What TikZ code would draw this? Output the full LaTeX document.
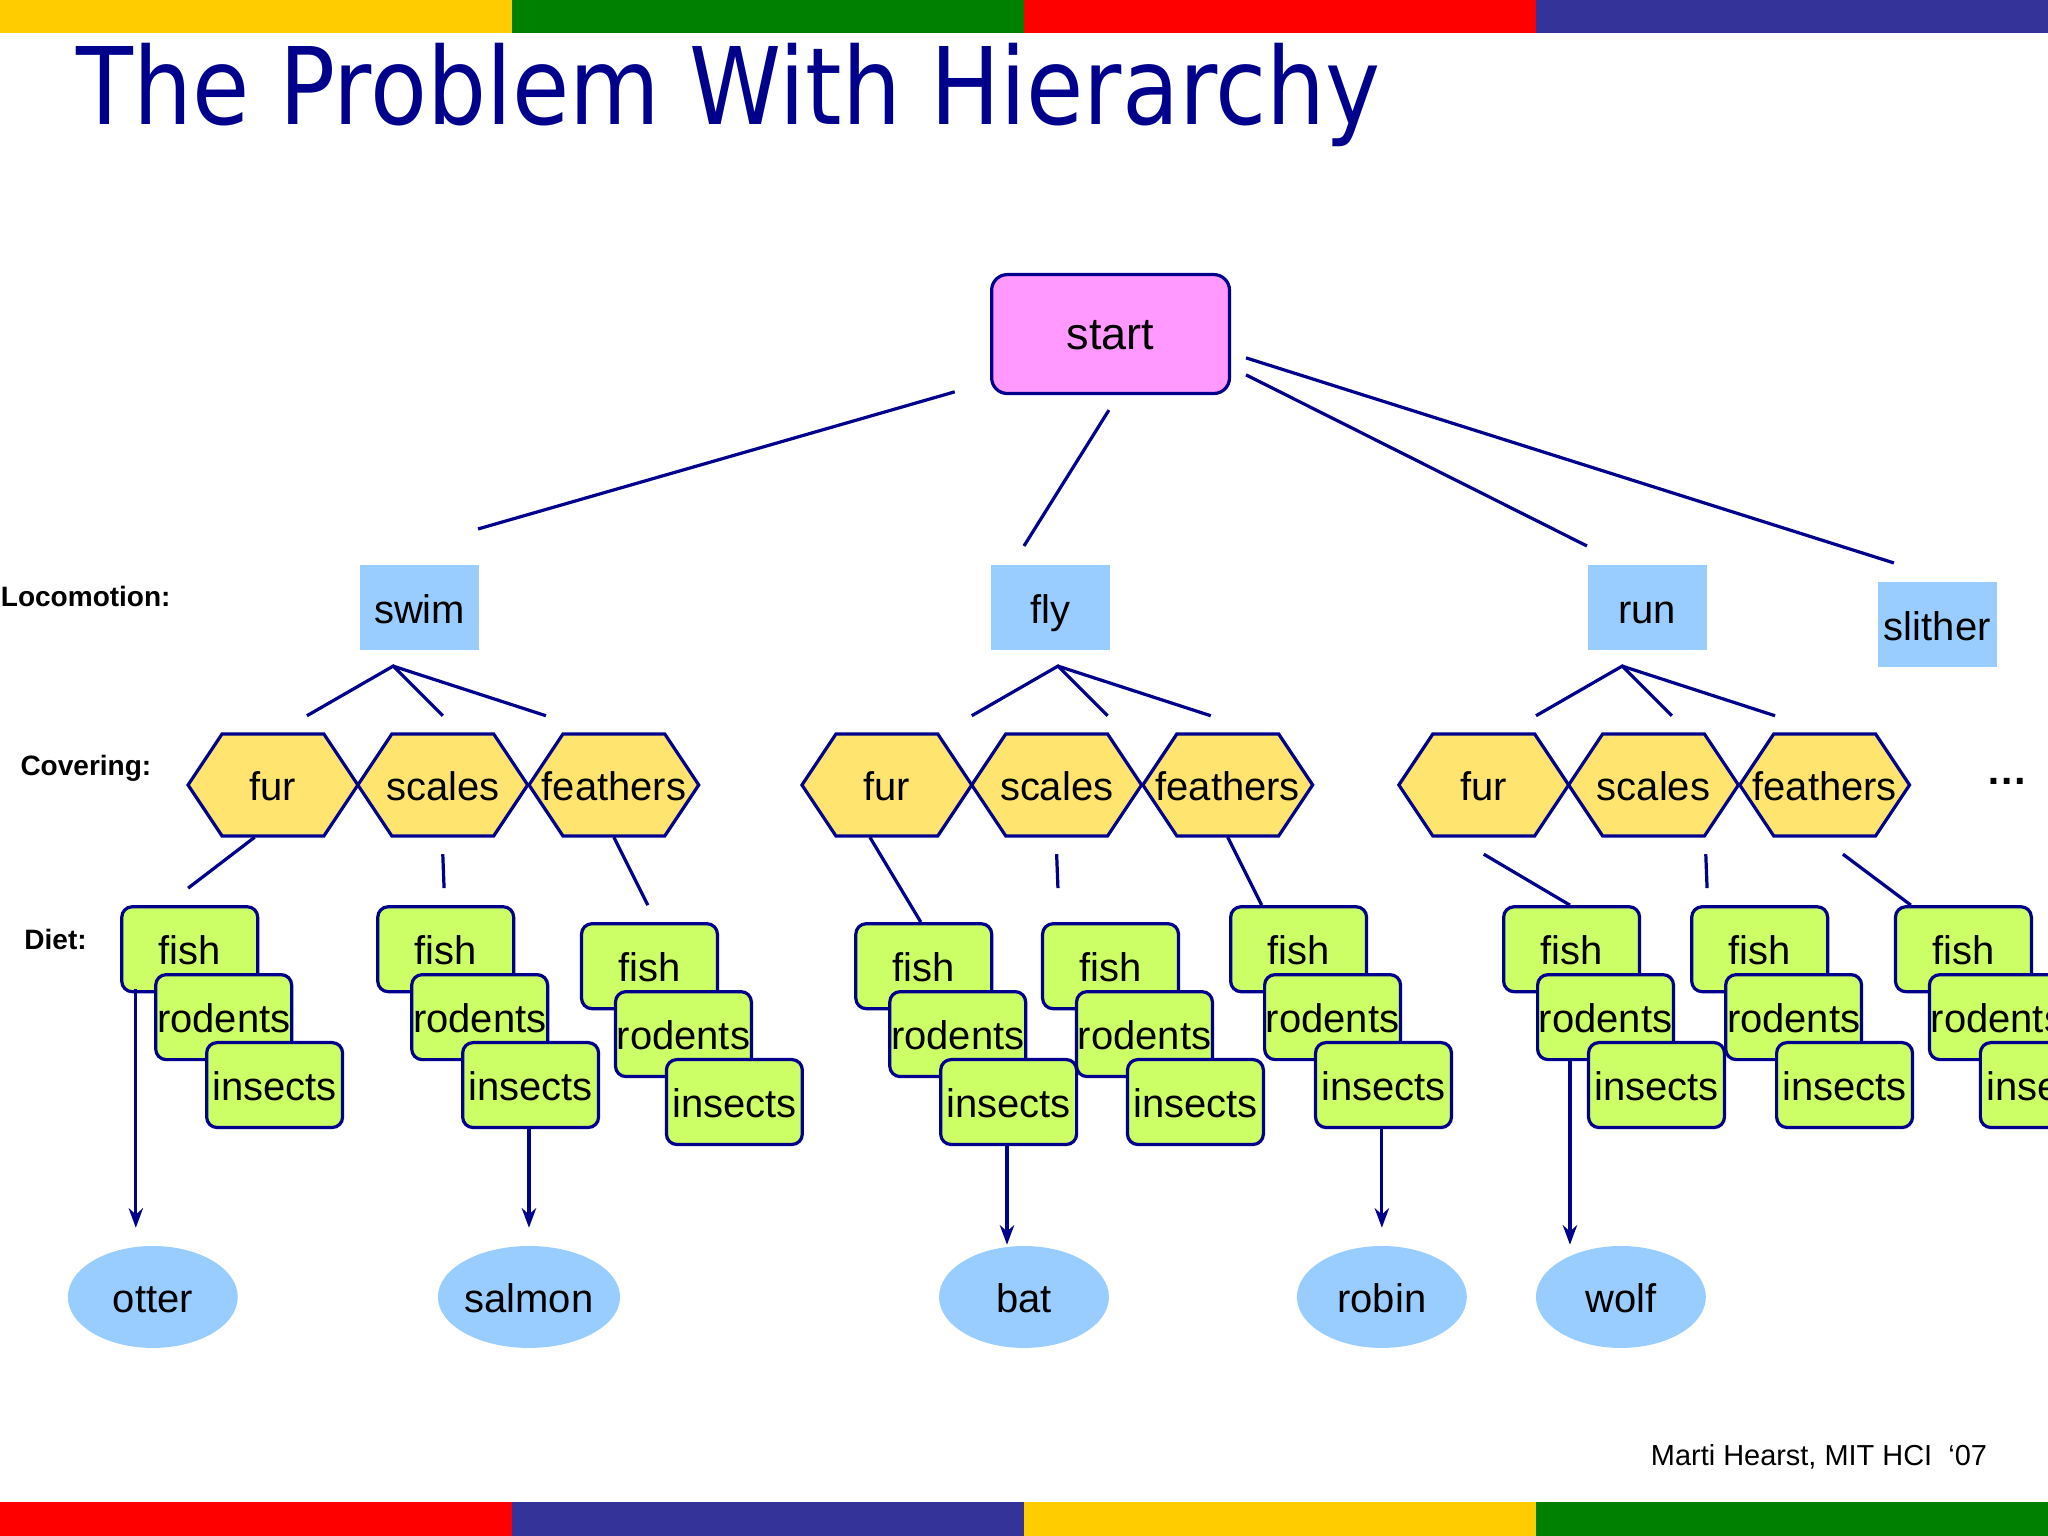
\documentclass[tikz,border=0pt]{standalone}
\usepackage{fontspec}
\setmainfont{Liberation Sans}
\newfontfamily\titlefont{DejaVu Sans}
\usetikzlibrary{arrows.meta,shapes.geometric}
\definecolor{dblue}{RGB}{0,0,140}
\definecolor{lblue}{RGB}{153,204,255}
\definecolor{pinkc}{RGB}{255,153,255}
\definecolor{hexy}{RGB}{255,228,112}
\definecolor{dgreen}{RGB}{204,255,102}
\definecolor{cyel}{RGB}{255,204,0}
\definecolor{cgrn}{RGB}{0,128,0}
\definecolor{cred}{RGB}{255,0,0}
\definecolor{cblu}{RGB}{51,51,153}
\tikzset{
 ln/.style={draw=dblue,line width=0.7pt},
 fx/.style={text height=1.6ex,text depth=0.3ex},
 box/.style={fx,draw=dblue,line width=0.7pt,fill=dgreen,rounded corners=0.08cm,minimum width=1.04cm,minimum height=0.65cm,anchor=north west,inner sep=0pt,font=\fontsize{8.7}{10}\selectfont},
 loco/.style={fx,fill=lblue,minimum width=0.91cm,minimum height=0.65cm,anchor=north west,inner sep=0pt,font=\fontsize{8.7}{10}\selectfont},
 leaf/.style={fx,ellipse,fill=lblue,minimum width=1.3cm,minimum height=0.78cm,inner sep=0pt,font=\fontsize{8.7}{10}\selectfont},
 hexlabel/.style={fx,font=\fontsize{8.7}{10}\selectfont,inner sep=0pt},
 lab/.style={font=\bfseries\fontsize{6.1}{7}\selectfont,anchor=west,inner sep=0pt},
 arr/.style={ln,-{Stealth[length=0.15cm,width=0.11cm]}}
}
\begin{document}
\begin{tikzpicture}[x=0.01cm,y=-0.01cm]
\useasboundingbox (0,0) rectangle (1568,1176);
\clip (0,0) rectangle (1568,1176);
% colour bars
\fill[cyel] (0,0) rectangle (392,25);
\fill[cgrn] (392,0) rectangle (784,25);
\fill[cred] (784,0) rectangle (1176,25);
\fill[cblu] (1176,0) rectangle (1568,25);
\fill[cred] (0,1150) rectangle (392,1176);
\fill[cblu] (392,1150) rectangle (784,1176);
\fill[cyel] (784,1150) rectangle (1176,1176);
\fill[cgrn] (1176,1150) rectangle (1568,1176);
\node[anchor=base west,inner sep=0pt,text=dblue,font=\titlefont\fontsize{23.3}{26}\selectfont,xscale=0.87] (title) at (58,95) {The Problem With Hierarchy};
% start
\node[fx,draw=dblue,line width=0.7pt,fill=pinkc,rounded corners=0.12cm,minimum width=1.82cm,minimum height=0.91cm,anchor=north west,inner sep=0pt,font=\fontsize{9.8}{11}\selectfont] (start) at (758,209) {start};
% locomotion
\node[loco] (swim) at (275,432) {swim};
\node[loco] (fly) at (758,432) {fly};
\node[loco] (run) at (1215,432) {run};
\node[loco] (slither) at (1437,445) {slither};
\draw[ln] (731,300) -- (366,405);
\draw[ln] (849,314) -- (784,418);
\draw[ln] (954,287) -- (1215,418);
\draw[ln] (954,274) -- (1450,431);
% labels
\node[lab] (l1) at (0,457) {Locomotion:};
\node[lab] (l2) at (15,588) {Covering:};
\node[lab] (l3) at (18,719) {Diet:};
% hexagons
\foreach \cx/\t/\n in {209/fur/h1,339/scales/h2,470/feathers/h3,679/fur/h4,809/scales/h5,940/feathers/h6,1136/fur/h7,1266/scales/h8,1397/feathers/h9}{
 \draw[ln,fill=hexy] (\cx-65,601) -- (\cx-39,562) -- (\cx+39,562) -- (\cx+65,601) -- (\cx+39,640) -- (\cx-39,640) -- cycle;
 \node[hexlabel] (\n) at (\cx,601) {\t};
}
\node[font=\bfseries\fontsize{9}{10}\selectfont] (dots) at (1537,598) {\dots};
% locomotion to covering
\foreach \ax in {301,810,1242}{
 \draw[ln] (\ax-66,548) -- (\ax,510) -- (\ax+38,548);
 \draw[ln] (\ax,510) -- (\ax+117,548);
}
% diet stacks
\foreach \x/\y/\n in {92/693/s1,288/693/s2,444/706/s3,654/706/s4,797/706/s5,941/693/s6,1150/693/s7,1294/693/s8,1450/693/s9}{
 \node[box] (\n f) at (\x,\y) {fish};
 \node[box] (\n r) at (\x+26,\y+52) {rodents};
 \node[box] (\n i) at (\x+65,\y+104) {insects};
}
\draw[ln] (195,641) -- (144,680);
\draw[ln] (339,654) -- (340,680);
\draw[ln] (470,641) -- (496,693);
\draw[ln] (666,641) -- (705,706);
\draw[ln] (809,654) -- (810,680);
\draw[ln] (940,641) -- (966,693);
\draw[ln] (1136,654) -- (1202,693);
\draw[ln] (1306,654) -- (1307,680);
\draw[ln] (1411,654) -- (1463,693);
% leaves
\node[leaf] (otter) at (117,993) {otter};
\node[leaf] (salmon) at (405,993) {salmon};
\node[leaf] (bat) at (784,993) {bat};
\node[leaf] (robin) at (1058,993) {robin};
\node[leaf] (wolf) at (1241,993) {wolf};
\coordinate (a1) at (104,940);
\coordinate (a2) at (405,940);
\coordinate (a3) at (771,953);
\coordinate (a4) at (1058,940);
\coordinate (a5) at (1202,953);
\draw[arr] (104,757) -- (a1);
\draw[arr] (405,862) -- (a2);
\draw[arr] (771,875) -- (a3);
\draw[arr] (1058,862) -- (a4);
\draw[arr] (1202,810) -- (a5);
\node[anchor=base east,inner sep=0pt,font=\fontsize{6.3}{8}\selectfont] (credit) at (1522,1122) {Marti Hearst, MIT HCI\ \ ‘07};
\end{tikzpicture}
\end{document}
